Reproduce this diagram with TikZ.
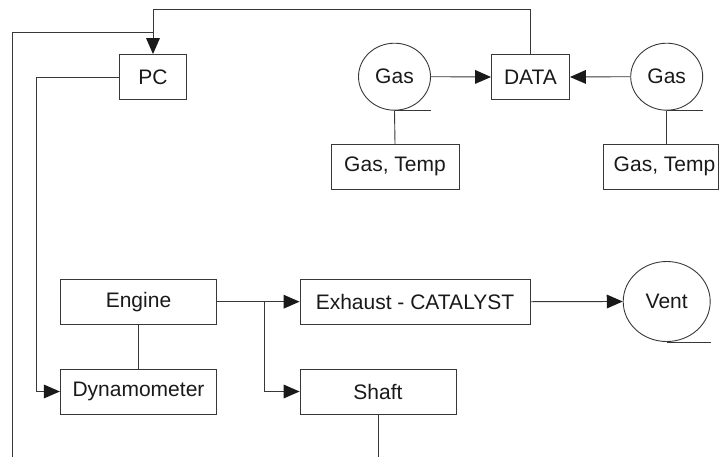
\documentclass[tikz,border=0pt]{standalone}
\usepackage{fontspec}
\setmainfont{Liberation Sans}
\usetikzlibrary{arrows.meta,shapes.geometric,calc}
\begin{document}
\begin{tikzpicture}[x=1pt,y=-1pt, line width=0.9pt, color=black!78,
  boxnode/.style={draw, rectangle, minimum height=45pt, inner sep=0pt, font=\fontsize{21}{25}\selectfont, text=black!90},
  ellnode/.style={draw, ellipse, inner sep=0pt, font=\fontsize{21}{25}\selectfont, text=black!90},
  arr/.style={-{Triangle[length=16pt,width=14pt,line width=0pt,fill=black!90]}}]
\useasboundingbox (0,0) rectangle (722,458);
% nodes
\node[boxnode, minimum width=67pt] (pc) at (153,77) {PC};
\node[boxnode, minimum width=78pt] (data) at (530.5,77) {DATA};
\node[ellnode, minimum width=72pt, minimum height=67pt] (gas1) at (394.5,76.7) {Gas};
\node[ellnode, minimum width=72pt, minimum height=67pt] (gas2) at (666.7,76.7) {Gas};
\node[boxnode, minimum width=128pt] (gt1) at (395,166.8) {Gas, Temp};
\node[boxnode, minimum width=115pt] (gt2) at (660.5,166.8) {\hspace*{4pt}Gas, Temp\hspace*{-4pt}};
\node[boxnode, minimum width=156.4pt] (engine) at (138.5,301.7) {Engine};
\node[boxnode, minimum width=156.4pt] (dyn) at (138.5,391.5) {Dynamometer};
\node[boxnode, minimum width=230pt] (exh) at (415,301.7) {Exhaust - CATALYST};
\node[boxnode, minimum width=156pt] (shaft) at (378,391.5) {Shaft};
\node[ellnode, minimum width=87pt, minimum height=80pt] (vent) at (666.7,301.5) {Vent};
% helper coordinates
\coordinate (topr) at (530.5,9.5);
\coordinate (topl) at (153,9.5);
\coordinate (loopb) at (12.7,457);
\coordinate (loopt) at (12.7,32.3);
\coordinate (loopj) at (153,32.3);
\coordinate (pcl) at (36.3,77);
\coordinate (split) at (264.3,301.7);
\coordinate (shaftb) at (378,457);
% underlines
\draw (gas1.south) -- (gas1.south -| gas1.east);
\draw (gas2.south) -- (gas2.south -| gas2.east);
\draw (vent.south) -- (vent.south -| vent.east);
% connectors
\draw (gas1.south) -- (gt1.north);
\draw (gas2.south) -- (gas2.south |- gt2.north);
\draw[arr] (gas1.east) -- (data.west);
\draw[arr] (gas2.west) -- (data.east);
\draw[arr] (data.north) -- (topr) -- (topl) -- (pc.north);
\draw (loopb) -- (loopt) -- (loopj);
\draw[arr] (pc.west) -- (pcl) -- (pcl |- dyn.west) -- (dyn.west);
\draw (engine.south) -- (dyn.north);
\draw[arr] (engine.east) -- (split) -- (exh.west);
\draw[arr] (split) -- (split |- shaft.west) -- (shaft.west);
\draw[arr] (exh.east) -- (vent.west);
\draw (shaft.south) -- (shaftb);
\end{tikzpicture}
\end{document}
